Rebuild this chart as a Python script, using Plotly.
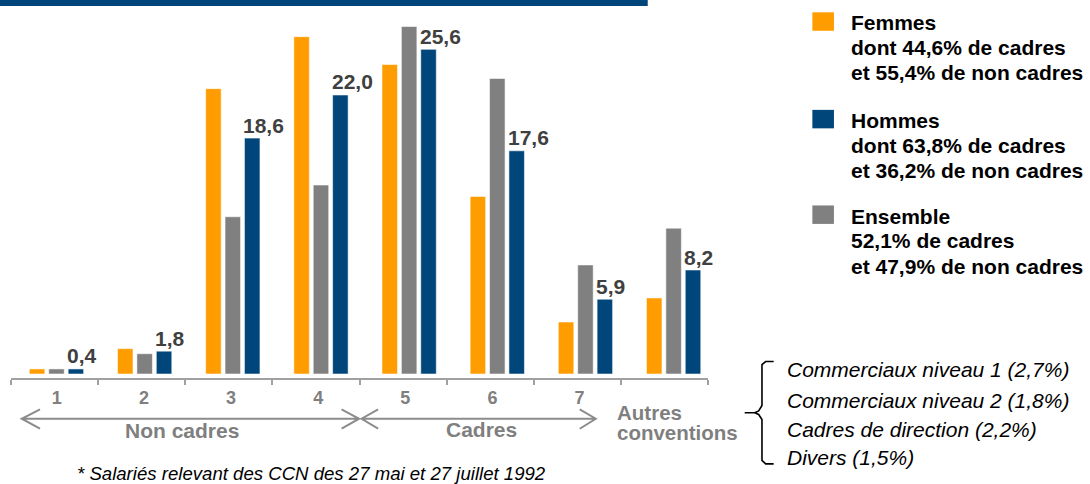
import numpy as np
import plotly.graph_objects as go

# ---------------- data ----------------
categories = ["1", "2", "3", "4", "5", "6", "7", "Autres conventions"]
femmes = [0.4, 2.0, 22.5, 26.6, 24.4, 14.0, 4.1, 6.0]
ensemble = [0.4, 1.6, 12.4, 14.9, 27.4, 23.3, 8.6, 11.5]
hommes = [0.4, 1.8, 18.6, 22.0, 25.6, 17.6, 5.9, 8.2]
tick_labels = ["1", "2", "3", "4", "5", "6", "7", ""]
group_labels = ["Non cadres", "Cadres"]
legend_lines = {
    "Femmes": ["Femmes", "dont 44,6% de cadres", "et 55,4% de non cadres"],
    "Hommes": ["Hommes", "dont 63,8% de cadres", "et 36,2% de non cadres"],
    "Ensemble": ["Ensemble", "52,1% de cadres", "et 47,9% de non cadres"],
}
autres_lines = ["Commerciaux niveau 1 (2,7%)", "Commerciaux niveau 2 (1,8%)",
                "Cadres de direction (2,2%)", "Divers (1,5%)"]
footnote = "* Salariés relevant des CCN des 27 mai et 27 juillet 1992"

# ---------------- style ----------------
ORANGE = "#FF9C00"
BLUE = "#00467A"
GREY = "#808080"
LABEL_GREY = "#7F7F7F"
FONT = "Liberation Sans, Arial, sans-serif"

W_FIG, H_FIG = 1090, 484
L, R, T, B = 11, 708.3, 19, 378.5
PW, PH = R - L, B - T
PX_PER_UNIT_Y = 12.7
y0 = -4 / PX_PER_UNIT_Y
y1 = y0 + PH / PX_PER_UNIT_Y
x0 = -0.516
x1 = 7.390


def px(x):
    return (x - L) / PW


def py(y):
    return (B - y) / PH


def path(points_groups):
    s = ""
    for grp in points_groups:
        for k, (a, b) in enumerate(grp):
            s += ("M" if k == 0 else "L") + f"{px(a):.5f},{py(b):.5f} "
    return s.strip()


xs = list(range(len(categories)))

fig = go.Figure()
edge = dict(color="rgba(255,255,255,0.55)", width=1)
fig.add_trace(go.Bar(x=xs, y=femmes, name="Femmes", marker=dict(color=ORANGE, line=edge),
                     showlegend=False, hoverinfo="skip"))
fig.add_trace(go.Bar(x=xs, y=ensemble, name="Ensemble", marker=dict(color=GREY, line=edge),
                     showlegend=False, hoverinfo="skip"))
fig.add_trace(go.Bar(x=xs, y=hommes, name="Hommes", marker=dict(color=BLUE, line=edge),
                     showlegend=False, hoverinfo="skip"))

# tick boundaries (axis split into 8 equal sections)
bounds = list(np.linspace(x0, x1, len(categories) + 1))
bounds[0] += 1e-6
bounds[-1] -= 1e-6
mids = [(bounds[k] + bounds[k + 1]) / 2 + 0.025 for k in range(len(categories))]

annotations = []
# value labels on Hommes bars
for i, v in enumerate(hommes):
    annotations.append(dict(
        x=xs[i] + 0.132, y=v, xref="x", yref="y", xanchor="left", yanchor="middle",
        xshift=-3, yshift=13, showarrow=False,
        text=f"{v:.1f}".replace(".", ","),
        font=dict(family=FONT, size=21, color="#404040", weight="bold")))

# group labels
annotations.append(dict(x=px(182), y=py(431.5), xref="paper", yref="paper", showarrow=False,
                        text=group_labels[0], xanchor="center", yanchor="middle",
                        font=dict(family=FONT, size=21, color=LABEL_GREY, weight="bold")))
annotations.append(dict(x=px(481.7), y=py(430.5), xref="paper", yref="paper", showarrow=False,
                        text=group_labels[1], xanchor="center", yanchor="middle",
                        font=dict(family=FONT, size=21, color=LABEL_GREY, weight="bold")))
for j, line in enumerate(categories[-1].split(" ")):
    annotations.append(dict(x=px(615), y=py(412.8 + 20.5 * j), xref="paper", yref="paper",
                            showarrow=False, text=line, xanchor="left", yanchor="middle",
                            font=dict(family=FONT, size=20.5, color=LABEL_GREY, weight="bold")))

# legend (drawn manually)
leg_colors = {"Femmes": ORANGE, "Hommes": BLUE, "Ensemble": GREY}
leg_tops = {"Femmes": 12.3, "Hommes": 110, "Ensemble": 205.7}
leg_text_y = {"Femmes": [22.2, 48, 72.8], "Hommes": [120.5, 145.5, 170.5],
              "Ensemble": [216.3, 241.3, 266.8]}
shapes = []
for key, lines in legend_lines.items():
    top = leg_tops[key]
    shapes.append(dict(type="rect", xref="paper", yref="paper",
                       x0=px(812.7), x1=px(834.3), y0=py(top), y1=py(top + 18.5),
                       fillcolor=leg_colors[key], line=dict(width=0)))
    for line, yy in zip(lines, leg_text_y[key]):
        annotations.append(dict(x=px(849.5), y=py(yy), xref="paper", yref="paper",
                                showarrow=False, text=line, xanchor="left", yanchor="middle",
                                font=dict(family=FONT, size=21, color="#000000", weight="bold")))

# right side notes
for line, yy in zip(autres_lines, [369.5, 401.5, 430, 458]):
    annotations.append(dict(x=px(785), y=py(yy), xref="paper", yref="paper", showarrow=False,
                            text=line, xanchor="left", yanchor="middle",
                            font=dict(family=FONT, size=21, color="#000000", style="italic")))

# footnote
annotations.append(dict(x=px(312), y=py(474), xref="paper", yref="paper", showarrow=False,
                        text=footnote, xanchor="center", yanchor="middle",
                        font=dict(family=FONT, size=18.6, color="#000000", style="italic")))

# top band
shapes.append(dict(type="rect", xref="paper", yref="paper", x0=px(0), x1=px(648),
                   y0=py(0), y1=py(6), fillcolor=BLUE, line=dict(width=0)))

# arrows
ARROW = dict(color="#8C8C8C", width=2)
yl = 419.3
shapes.append(dict(type="path", xref="paper", yref="paper", line=ARROW,
                   path=path([[(21.7, yl), (359.3, yl)],
                              [(40, 410), (21.7, yl), (40, 429.3)],
                              [(341.7, 410), (359.3, yl), (341.7, 429.3)]])))
shapes.append(dict(type="path", xref="paper", yref="paper", line=ARROW,
                   path=path([[(361.7, yl), (596, yl)],
                              [(378.3, 410), (361.7, yl), (378.3, 429.3)],
                              [(580, 410), (596, yl), (580, 429.3)]])))

# brace
bx = 762.3
shapes.append(dict(type="path", xref="paper", yref="paper", line=dict(color="#000000", width=1.6),
                   path=path([[(774, 362), (766, 362), (bx, 365), (bx, 406), (759, 411.5),
                               (755, 413.3), (745, 413.3)],
                              [(755, 413.3), (759, 415), (bx, 420), (bx, 461), (766, 464.5),
                               (774, 464.5)]])))

fig.update_layout(
    width=W_FIG, height=H_FIG,
    margin=dict(l=L, r=W_FIG - R, t=T, b=H_FIG - B, pad=0, autoexpand=False),
    paper_bgcolor="white", plot_bgcolor="white",
    barmode="group", bargap=0.34, bargroupgap=0.2,
    showlegend=False, hovermode=False,
    annotations=annotations, shapes=shapes,
    xaxis=dict(range=[x0, x1], showgrid=False, zeroline=False, automargin=False,
               showline=True, linecolor="#A0A0A0", linewidth=2, fixedrange=True,
               tickmode="array", tickvals=mids, ticktext=tick_labels, ticks="",
               ticklabelstandoff=2,
               tickfont=dict(family=FONT, size=18, color=LABEL_GREY, weight="bold"),
               minor=dict(tickmode="array", tickvals=bounds, ticks="outside", ticklen=5,
                          tickwidth=2, tickcolor="#A0A0A0", showgrid=False)),
    yaxis=dict(range=[y0, y1], visible=False, showgrid=False, zeroline=False,
               fixedrange=True),
)

fig.write_html("out.html", config={"displayModeBar": False, "staticPlot": True},
               post_script="document.body.style.margin='0';document.body.style.overflow='hidden';")
